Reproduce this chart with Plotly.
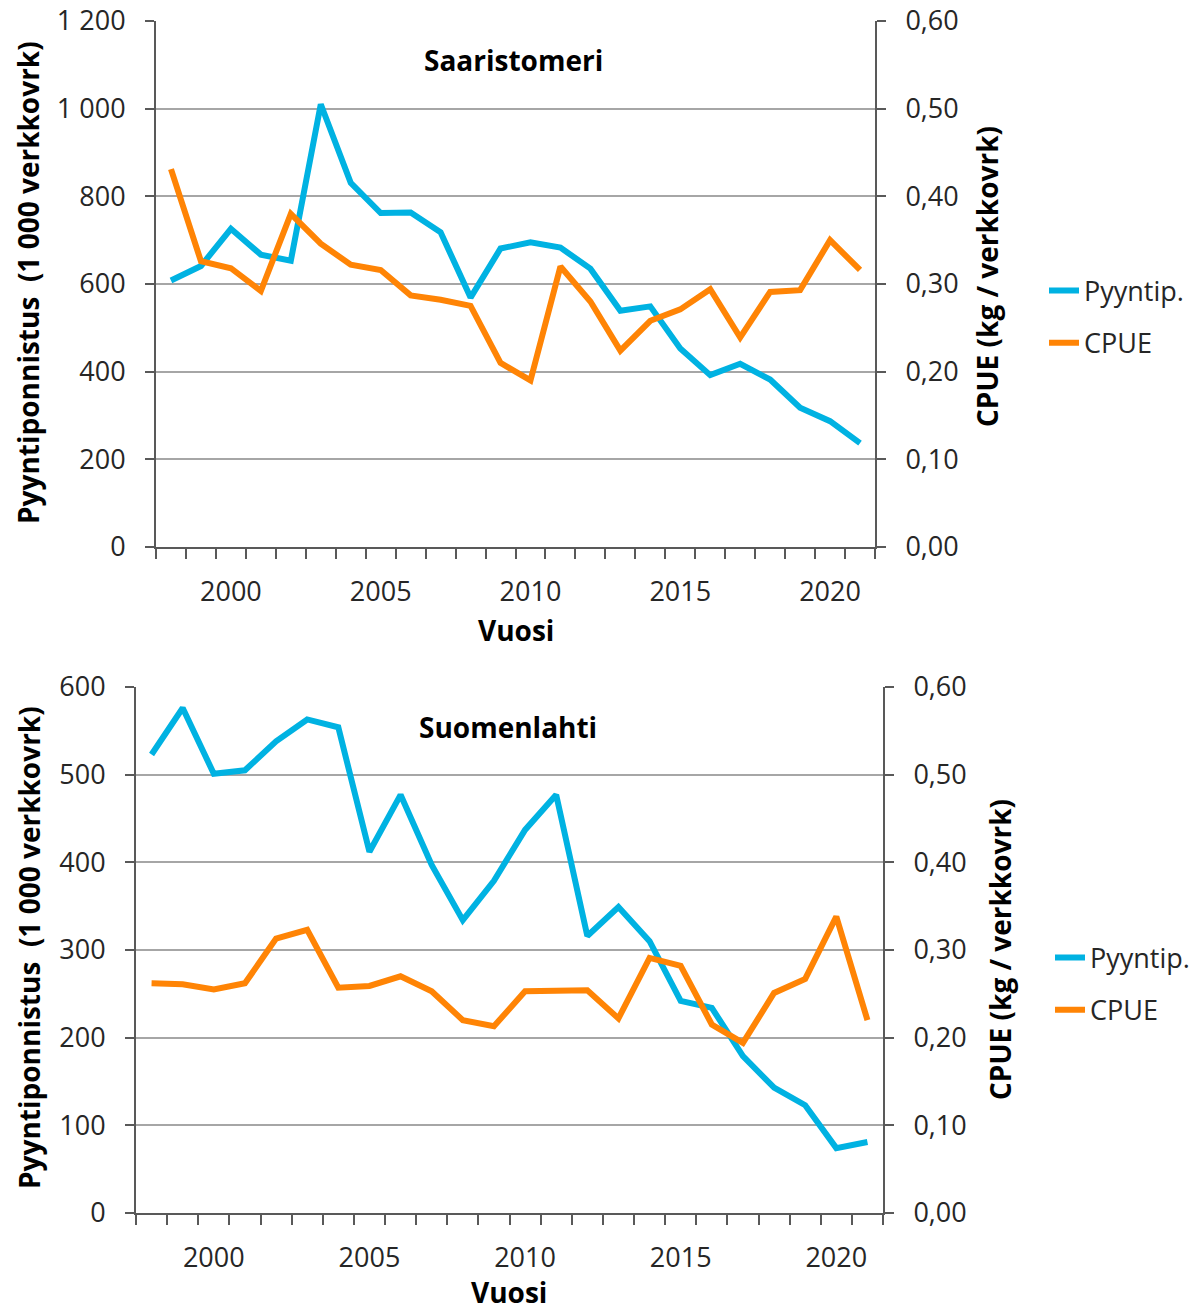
import plotly.graph_objects as go

# years on the category axis
years = list(range(1998, 2022))

# Saaristomeri
saaristo_effort = [608, 641, 726, 667, 653, 1010, 831, 762, 763, 718, 569, 681,
                   695, 683, 635, 539, 549, 453, 392, 418, 382, 318, 287, 237]
saaristo_cpue = [0.431, 0.326, 0.318, 0.292, 0.380, 0.346, 0.322, 0.316, 0.287, 0.282, 0.275, 0.210,
                 0.190, 0.320, 0.280, 0.224, 0.258, 0.271, 0.294, 0.239, 0.291, 0.293, 0.350, 0.316]

# Suomenlahti
suomi_effort = [523, 576, 501, 505, 538, 563, 554, 412, 477, 397, 334, 379,
                437, 477, 316, 349, 310, 242, 234, 179, 143, 123, 74, 81]
suomi_cpue = [0.262, 0.261, 0.255, 0.262, 0.313, 0.323, 0.257, 0.259, 0.270, 0.253, 0.220, 0.213,
              0.253, 0.254, 0.254, 0.222, 0.291, 0.282, 0.215, 0.194, 0.251, 0.267, 0.338, 0.220]

panel_titles = ["Saaristomeri", "Suomenlahti"]
series_names = ["Pyyntip.", "CPUE"]
left_title = "Pyyntiponnistus  (1 000 verkkovrk)"
right_title = "CPUE (kg / verkkovrk)"
x_title = "Vuosi"

# body margin is removed in the page (see post_script), so figure == window
W, H = 1197, 1311
BLUE = "#00B2E2"
ORANGE = "#FF8405"
AXIS = "#595959"
GRID = "#A6A6A6"
FONT = "Open Sans"


def px_x(x):
    return x / W


def px_y(y):
    return 1 - y / H


fig = go.Figure()

panels = [
    dict(effort=saaristo_effort, cpue=saaristo_cpue, left_max=1200, left_dtick=200,
         xl=156, xr=875, yt=21, yb=547, legend="legend", xs="x", ys="y", ys2="y2"),
    dict(effort=suomi_effort, cpue=suomi_cpue, left_max=600, left_dtick=100,
         xl=136, xr=883, yt=687, yb=1213, legend="legend2", xs="x2", ys="y3", ys2="y4"),
]

for i, p in enumerate(panels):
    fig.add_trace(go.Scatter(x=years, y=p["effort"], mode="lines", name=series_names[0],
                             line=dict(color=BLUE, width=6), xaxis=p["xs"], yaxis=p["ys"],
                             legend=p["legend"], legendgroup=f"a{i}"))
    fig.add_trace(go.Scatter(x=years, y=p["cpue"], mode="lines", name=series_names[1],
                             line=dict(color=ORANGE, width=6), xaxis=p["xs"], yaxis=p["ys2"],
                             legend=p["legend"], legendgroup=f"b{i}"))

tick_font = dict(family=FONT, size=27, color="#262626")
axes = {}
for i, p in enumerate(panels):
    xname = "xaxis" if i == 0 else "xaxis2"
    yname = "yaxis" if i == 0 else "yaxis3"
    y2name = "yaxis2" if i == 0 else "yaxis4"
    xdom = [px_x(p["xl"]), px_x(p["xr"])]
    ydom = [px_y(p["yb"]), px_y(p["yt"])]
    axes[xname] = dict(domain=xdom, anchor=p["ys"], range=[1997.5, 2021.5], automargin=False,
                       tick0=2000, dtick=5, ticks="", showgrid=False, zeroline=False,
                       showline=True, linecolor=AXIS, linewidth=2, tickfont=tick_font,
                       ticklabelstandoff=20, ticklabeloverflow="allow",
                       minor=dict(ticks="outside", tick0=1997.5, dtick=1, ticklen=10,
                                  tickcolor=AXIS, tickwidth=1.5, showgrid=False))
    axes[yname] = dict(domain=ydom, anchor=p["xs"], range=[0, p["left_max"]], automargin=False,
                       dtick=p["left_dtick"], tickformat=",d", ticks="outside", ticklen=9,
                       tickcolor=AXIS, tickwidth=1.5, showline=True, linecolor=AXIS,
                       linewidth=2, showgrid=True, gridcolor=GRID, gridwidth=1.5,
                       zeroline=False, tickfont=tick_font, ticklabelstandoff=14,
                       ticklabeloverflow="allow")
    axes[y2name] = dict(overlaying=p["ys"], anchor=p["xs"], side="right", range=[0, 0.6],
                        dtick=0.1, tickformat=".2f", ticks="outside", ticklen=9, automargin=False,
                        tickcolor=AXIS, tickwidth=1.5, showline=True, linecolor=AXIS,
                        linewidth=2, showgrid=False, zeroline=False, tickfont=tick_font,
                        ticklabelstandoff=14, ticklabeloverflow="allow")

legend_font = dict(family=FONT, size=27, color="#262626")
fig.update_layout(
    width=W, height=H,
    margin=dict(l=0, r=0, t=0, b=0, autoexpand=False),
    paper_bgcolor="white", plot_bgcolor="white",
    separators=", ",
    showlegend=True,
    legend=dict(x=px_x(1044), y=px_y(317), xanchor="left", yanchor="middle",
                font=legend_font, tracegroupgap=14, bgcolor="rgba(0,0,0,0)"),
    legend2=dict(x=px_x(1050), y=px_y(984), xanchor="left", yanchor="middle",
                 font=legend_font, tracegroupgap=14, bgcolor="rgba(0,0,0,0)"),
    **axes,
)

bold = dict(family=FONT, size=28, color="black")
notes = [
    (513, 60, "<b>" + panel_titles[0] + "</b>", 0),
    (508, 727, "<b>" + panel_titles[1] + "</b>", 0),
    (516, 630, "<b>" + x_title + "</b>", 0),
    (509, 1292, "<b>" + x_title + "</b>", 0),
    (28, 283, "<b>" + left_title + "</b>", -90),
    (987, 277, "<b>" + right_title + "</b>", -90),
    (29, 948, "<b>" + left_title + "</b>", -90),
    (1000, 950, "<b>" + right_title + "</b>", -90),
]
for x, y, text, ang in notes:
    fig.add_annotation(x=px_x(x), y=px_y(y), xref="paper", yref="paper", text=text,
                       showarrow=False, textangle=ang, font=bold,
                       xanchor="center", yanchor="middle")

fig.write_html("out.html", config={"displayModeBar": False},
               post_script="document.body.style.margin = '0';")
